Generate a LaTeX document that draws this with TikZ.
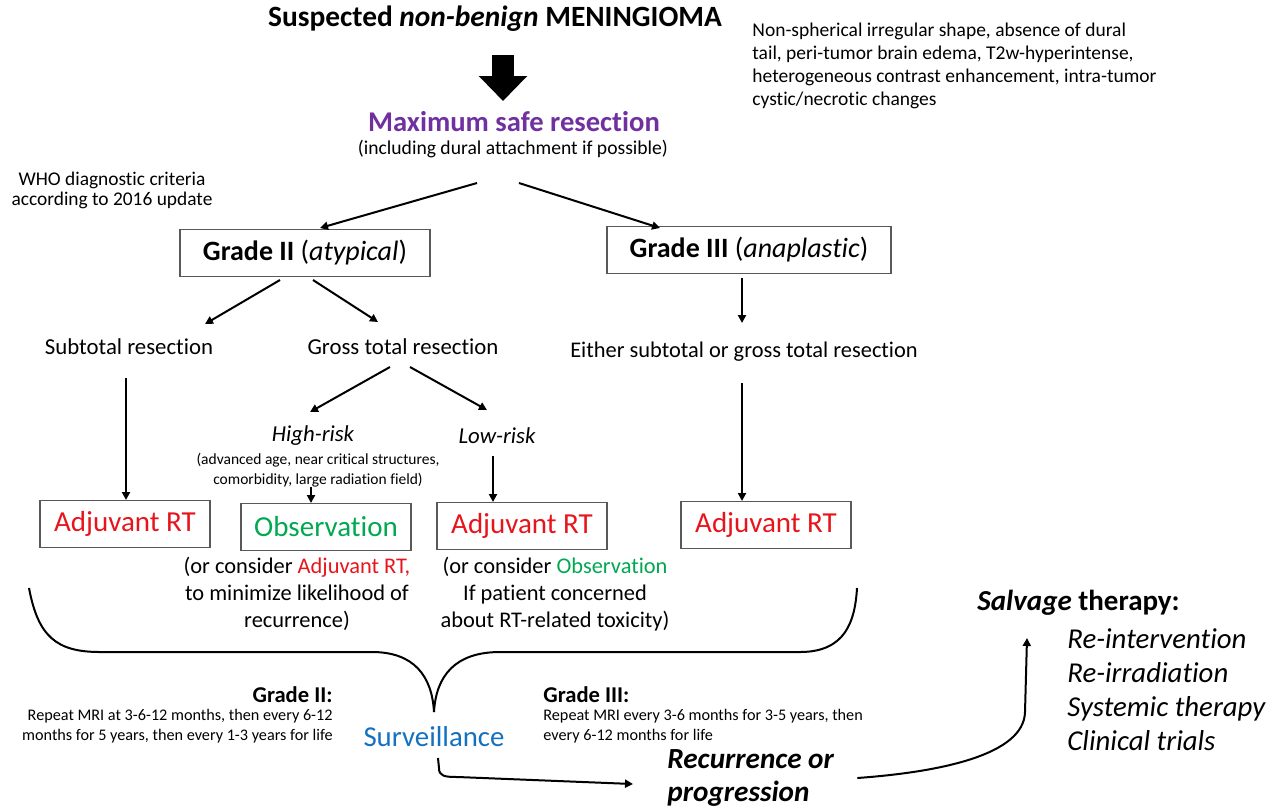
\documentclass[tikz,border=0pt]{standalone}
\usepackage{fontspec}
\setmainfont{Carlito}[Ligatures=NoCommon]
\usetikzlibrary{arrows.meta,calc}

\definecolor{resectpurple}{RGB}{112,48,160}
\definecolor{rtred}{RGB}{232,20,28}
\definecolor{obsgreen}{RGB}{0,168,80}
\definecolor{survblue}{RGB}{20,112,192}

\tikzset{
  txt/.style={inner sep=0pt, align=center},
  gradebox/.style={draw=black!65, line width=0.6pt, inner sep=0pt, minimum height=23.5pt},
  rtbox/.style={draw=black!65, line width=0.6pt, inner sep=0pt, minimum width=85pt, minimum height=23.5pt,
                font=\fontsize{14.5}{16}\selectfont},
  flow/.style={-{Triangle[length=4pt,width=4pt]}, line width=1pt},
}

\begin{document}
\begin{tikzpicture}[x=0.5pt,y=-0.5pt]
  \useasboundingbox (0,0) rectangle (1284,811);

% top of the flow
  \node[txt,font=\fontsize{14.7}{17}\selectfont\bfseries] (title) at (495,19) {Suspected \textit{non-benign} MENINGIOMA};
  \node[txt,anchor=north west,align=left,font=\fontsize{9.75}{11.5}\selectfont] (imaging) at (752,23)
       {Non-spherical irregular shape, absence of dural\\tail, peri-tumor brain edema, T2w-hyperintense,\\
        heterogeneous contrast enhancement, intra-tumor\\cystic/necrotic changes};
  \coordinate (bigtop) at (503,55);
  \coordinate (bigtip) at (503,101);
  \draw[line width=11pt,-{Triangle[length=12.5pt,width=23.5pt]}] (bigtop) -- (bigtip);
  \node[txt,text=resectpurple,font=\fontsize{14.3}{16}\selectfont\bfseries] (maxres) at (514,122) {Maximum safe resection};
  \node[txt,font=\fontsize{9.8}{11}\selectfont] (incl) at (513,149) {(including dural attachment if possible)};
  \node[txt,font=\fontsize{9.7}{10}\selectfont] (who) at (112,190) {WHO diagnostic criteria\\according to 2016 update};

% grades
  \node[gradebox,minimum width=125pt,font=\fontsize{14}{16}\selectfont] (g2) at (305,253) {\textbf{Grade II} (\textit{atypical})};
  \node[gradebox,minimum width=142pt,font=\fontsize{14}{16}\selectfont] (g3) at (749,250) {\textbf{Grade III} (\textit{anaplastic})};
  \draw[flow] ($(incl.center)+(-36,34)$) -- ($(g2.center)+(15,-25)$);
  \draw[flow] ($(incl.center)+(6,34)$) -- ($(g3.center)+(-89,-22)$);

% extent of resection
  \node[txt,font=\fontsize{11.4}{13}\selectfont] (sub) at (129,347) {Subtotal resection};
  \node[txt,font=\fontsize{11.4}{13}\selectfont] (gross) at (403,347) {Gross total resection};
  \node[txt,font=\fontsize{11.2}{13}\selectfont] (either) at (744,352) {Either subtotal or gross total resection};
  \draw[flow] ($(g2.center)+(-25,27)$) -- ($(sub.center)+(76,-23)$);
  \draw[flow] ($(g2.center)+(8,27)$) -- ($(gross.center)+(-25,-25)$);
  \draw[flow] ($(g3.center)+(-7,28)$) -- ($(either.center)+(-2,-29)$);

% risk after gross total resection
  \node[txt,font=\fontsize{11.4}{13}\selectfont\itshape] (high) at (313,436) {High-risk};
  \node[txt,font=\fontsize{7.75}{10}\selectfont] (highnote) at (318,470)
       {(advanced age, near critical structures,\\comorbidity, large radiation field)};
  \node[txt,font=\fontsize{11.4}{13}\selectfont\itshape] (low) at (497,436) {Low-risk};
  \draw[flow] ($(gross.center)+(-13,20)$) -- ($(high.center)+(-3,-24)$);
  \draw[flow] ($(gross.center)+(7,20)$) -- ($(low.center)+(-10,-26)$);

% treatment boxes
  \node[rtbox,text=rtred] (adjL) at (125,524) {Adjuvant RT};
  \node[rtbox,text=obsgreen] (obs) at (326,527) {Observation};
  \node[rtbox,text=rtred] (adjM) at (522,526) {Adjuvant RT};
  \node[rtbox,text=rtred] (adjR) at (766,525) {Adjuvant RT};
  \draw[flow] ($(sub.center)+(-3,31)$) -- ($(adjL.center)+(1,-24)$);
  \draw[flow] ($(highnote.center)+(-7,17)$) -- ($(obs.center)+(-15,-24)$);
  \draw[flow] ($(low.center)+(-4,20)$) -- ($(adjM.center)+(-29,-24)$);
  \draw[flow] ($(either.center)+(-2,31)$) -- ($(adjR.center)+(-24,-24)$);
  \node[txt,font=\fontsize{11.2}{13.5}\selectfont] (obsnote) at (297,594)
       {(or consider \textcolor{rtred}{Adjuvant RT,}\\to minimize likelihood of\\recurrence)};
  \node[txt,font=\fontsize{11.2}{13.5}\selectfont] (adjnote) at (555,594)
       {(or consider \textcolor{obsgreen}{Observation}\\If patient concerned\\about RT-related toxicity)};

% surveillance
  \node[txt,text=survblue,font=\fontsize{14.4}{16}\selectfont] (surv) at (434,737) {Surveillance};
  \coordinate (vtip) at ($(surv.center)+(0,-25)$);
  \draw[line width=1pt] (29,588) .. controls (38,636) and (56,652) .. (100,652) -- (372,652)
        .. controls (414,652) and (432,676) .. (vtip);
  \draw[line width=1pt] (vtip) .. controls (436,676) and (455,652) .. (500,652) -- (800,652)
        .. controls (845,652) and (855,622) .. (857,588);
  \node[txt,anchor=east,font=\fontsize{11.3}{12}\selectfont\bfseries] (g2lab) at (333,695) {Grade II:};
  \node[txt,anchor=north east,align=right,font=\fontsize{8.1}{10}\selectfont] (g2mri) at (333,709)
       {Repeat MRI at 3-6-12 months, then every 6-12\\months for 5 years, then every 1-3 years for life};
  \node[txt,anchor=west,font=\fontsize{11.3}{12}\selectfont\bfseries] (g3lab) at (543,695) {Grade III:};
  \node[txt,anchor=north west,align=left,font=\fontsize{8.1}{10}\selectfont] (g3mri) at (543,709)
       {Repeat MRI every 3-6 months for 3-5 years, then\\every 6-12 months for life};

% recurrence and salvage
  \node[txt,anchor=west,align=left,font=\fontsize{14.6}{16.5}\selectfont\bfseries\itshape] (recur) at (667,778)
       {Recurrence or\\progression};
  \draw[flow] ($(surv.center)+(4,21)$) -- ++(1,10) .. controls +(0,8) and +(-14,0) .. ++(19,9)
        -- ($(recur.west)+(-34,6)$);
  \node[txt,anchor=west,font=\fontsize{14.5}{16}\selectfont\bfseries] (salv) at (977,603) {\textit{Salvage} therapy:};
  \node[txt,anchor=north west,align=left,font=\fontsize{14.4}{17}\selectfont\itshape] (options) at (1067,628)
       {Re-intervention\\Re-irradiation\\Systemic therapy\\Clinical trials};
  \draw[flow] ($(recur.east)+(23,0)$) .. controls (940,772) and (1024,755) .. (1025,712)
        -- ($(salv.west)+(50,35)$);
\end{tikzpicture}
\end{document}
